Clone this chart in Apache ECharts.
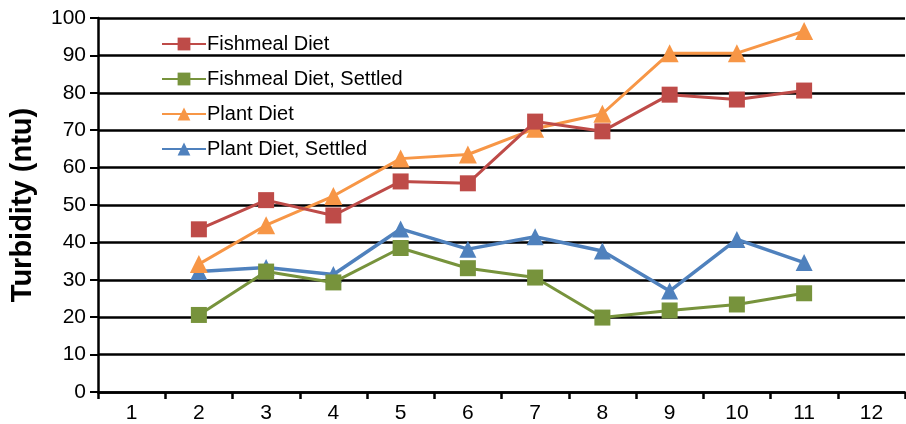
<!DOCTYPE html>
<html><head><meta charset="utf-8">
<script src="https://cdn.jsdelivr.net/npm/echarts@6/dist/echarts.min.js"></script>
<style>html,body{margin:0;padding:0;background:#fff}#c{width:906px;height:424px}</style>
</head><body><div id="c"></div>
<script>
const categories = ['1','2','3','4','5','6','7','8','9','10','11','12'];
const fishmeal = [null, 43.5, 51.3, 47.2, 56.3, 55.8, 72.3, 69.7, 79.5, 78.2, 80.6, null];
const fishmealSettled = [null, 20.6, 32.2, 29.3, 38.5, 33.1, 30.6, 19.9, 21.8, 23.4, 26.4, null];
const plant = [null, 34.2, 44.6, 52.4, 62.4, 63.5, 70.4, 74.4, 90.6, 90.6, 96.5, null];
const plantSettled = [null, 32.2, 33.3, 31.4, 43.6, 38.2, 41.5, 37.7, 27.0, 40.8, 34.6, null];
const names = ['Fishmeal Diet','Fishmeal Diet, Settled','Plant Diet','Plant Diet, Settled'];
const colors = ['#be4b48','#77933c','#f79646','#4f81bd'];

const chart = echarts.init(document.getElementById('c'), null, {renderer:'canvas'});
const font = 'Liberation Sans, Arial, sans-serif';
function mk(i, data, symbol, size, width) {
  return {name:names[i], type:'line', data:data, symbol:symbol, symbolSize:size,
    connectNulls:false, lineStyle:{color:colors[i], width:width}, itemStyle:{color:colors[i]}, z:10-i};
}
chart.setOption({
  animation:false,
  grid:{left:98, right:1, top:18, bottom:29},
  legend:{orient:'vertical', left:156, top:29, itemGap:15, itemWidth:44, itemHeight:16,
    textStyle:{fontFamily:font, fontSize:20, color:'#000', padding:[0,0,0,-4]}, data:names},
  xAxis:{type:'category', data:categories, boundaryGap:true,
    axisLine:{lineStyle:{color:'#000', width:2.5}},
    axisTick:{show:true, length:7, lineStyle:{color:'#000', width:2.5}},
    axisLabel:{fontFamily:font, fontSize:21, color:'#000', margin:11},
    splitLine:{show:false}},
  yAxis:{type:'value', min:0, max:100, interval:10,
    name:'Turbidity (ntu)', nameLocation:'middle', nameGap:61, nameRotate:90,
    nameTextStyle:{fontFamily:font, fontSize:29, fontWeight:'bold', color:'#000'},
    axisLine:{show:true, lineStyle:{color:'#000', width:2.5}},
    axisTick:{show:true, length:8, lineStyle:{color:'#000', width:2}},
    axisLabel:{fontFamily:font, fontSize:21, color:'#000', margin:12},
    splitLine:{show:true, lineStyle:{color:'#000', width:2.5}}},
  series:[
    mk(0, fishmeal, 'rect', 16, 3),
    mk(1, fishmealSettled, 'rect', 16, 3),
    mk(2, plant, 'triangle', 18, 3),
    mk(3, plantSettled, 'triangle', 17, 3.5)
  ]
});
</script></body></html>
